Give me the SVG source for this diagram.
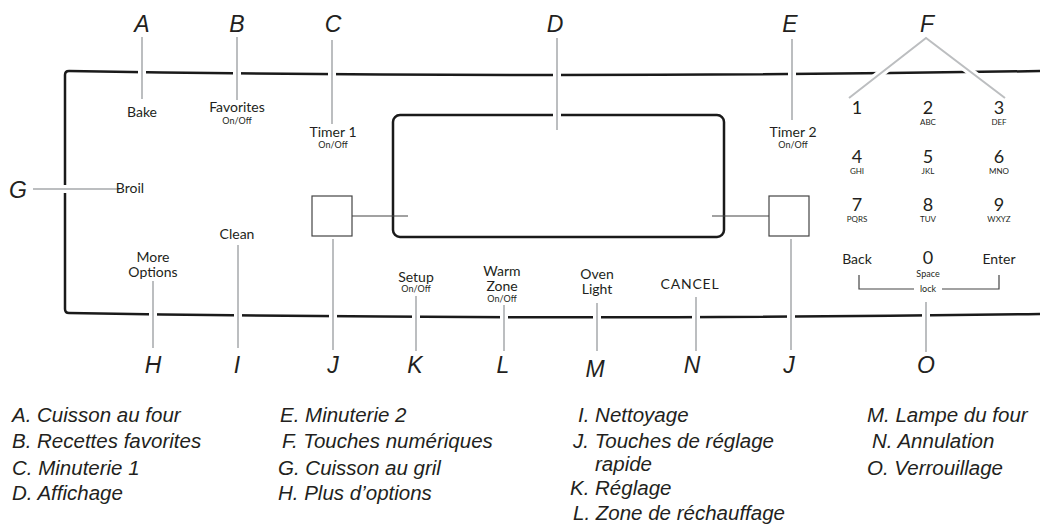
<svg xmlns="http://www.w3.org/2000/svg" width="1040" height="525" viewBox="0 0 1040 525">
<style>
.bg{fill:#fff}
.panel{fill:none;stroke:#1a1a1a;stroke-width:2.5}
.lead-u{fill:none;stroke:#fff;stroke-width:8;stroke-linecap:butt}
.lead{fill:none;stroke:#bcbec0;stroke-width:2;stroke-linecap:butt}
.thin{fill:none;stroke:#444;stroke-width:1.2}
.callout{font-family:"Liberation Sans",Arial,sans-serif;font-style:italic;font-size:23px;fill:#231f20;text-anchor:middle}
.lbl{font-family:Lato,"Open Sans",sans-serif;font-size:14px;fill:#231f20;text-anchor:middle}
.sm{font-family:Lato,"Open Sans",sans-serif;font-size:9px;fill:#231f20;text-anchor:middle}
.dig{font-family:Lato,"Open Sans",sans-serif;font-size:18px;fill:#231f20;text-anchor:middle}
.sub{font-family:Lato,"Open Sans",sans-serif;font-size:8px;fill:#231f20;text-anchor:middle}
.leg{font-family:"Liberation Sans",Arial,sans-serif;font-style:italic;font-size:20.5px;fill:#231f20}
</style>
<rect class="bg" x="0" y="0" width="1040" height="525"/>
<g id="panel">
<path class="panel" d="M1040,71 Q555,79 69,71 Q65,71 65,75 V309 Q65,313 69,313 Q555,321 1040,314"/>
</g>
<g id="display">
<rect class="panel" x="393" y="115" width="331" height="122" rx="7"/>
</g>
<g id="quick-keys">
<rect class="thin" x="312" y="196" width="40" height="40"/>
<rect class="thin" x="769" y="196" width="40" height="40"/>
<path class="thin" d="M352,216 H408 M712,216 H769" stroke-width="1"/>
</g>
<g id="connectors">
<path class="lead-u" d="M142,37 V99 M237,37 V100 M332,40 V124 M557,38 V130 M792,39 V120 M849,98 L926,38 L1005,98 M33,189 H120 M153,281 V348 M238,245 V348 M333,239 V350 M791,239 V350 M416,296 V351 M504,305 V351 M597,303 V351 M696,297 V351 M926,302 V352"/>
<path class="lead" d="M142,37 V99 M237,37 V100 M332,40 V124 M557,38 V130 M792,39 V120 M849,98 L926,38 L1005,98 M33,189 H120 M153,281 V348 M238,245 V348 M333,239 V350 M791,239 V350 M416,296 V351 M504,305 V351 M597,303 V351 M696,297 V351 M926,302 V352"/>
</g>
<g id="callouts">
<text class="callout" x="142" y="32">A</text>
<text class="callout" x="237" y="32">B</text>
<text class="callout" x="333" y="32">C</text>
<text class="callout" x="555" y="32">D</text>
<text class="callout" x="790" y="32">E</text>
<text class="callout" x="927" y="32">F</text>
<text class="callout" x="18" y="198">G</text>
<text class="callout" x="153" y="373">H</text>
<text class="callout" x="237" y="373">I</text>
<text class="callout" x="333" y="373">J</text>
<text class="callout" x="789" y="373">J</text>
<text class="callout" x="415" y="373">K</text>
<text class="callout" x="503" y="373">L</text>
<text class="callout" x="595" y="377">M</text>
<text class="callout" x="692" y="373">N</text>
<text class="callout" x="926" y="373">O</text>
</g>
<g id="bake"><text class="lbl" x="142" y="117">Bake</text></g>
<g id="favorites"><text class="lbl" x="237" y="112">Favorites</text><text class="sm" x="237" y="124">On/Off</text></g>
<g id="timer1"><text class="lbl" x="333" y="137">Timer 1</text><text class="sm" x="333" y="148">On/Off</text></g>
<g id="timer2"><text class="lbl" x="793" y="137">Timer 2</text><text class="sm" x="793" y="148">On/Off</text></g>
<g id="broil"><text class="lbl" x="130" y="193" text-anchor="start">Broil</text></g>
<g id="clean"><text class="lbl" x="237" y="239">Clean</text></g>
<g id="more-options"><text class="lbl" x="153" y="262">More</text><text class="lbl" x="153" y="277">Options</text></g>
<g id="setup"><text class="lbl" x="416" y="282">Setup</text><text class="sm" x="416" y="292">On/Off</text></g>
<g id="warm-zone"><text class="lbl" x="502" y="276">Warm</text><text class="lbl" x="502" y="291">Zone</text><text class="sm" x="502" y="302">On/Off</text></g>
<g id="oven-light"><text class="lbl" x="597" y="279">Oven</text><text class="lbl" x="597" y="294">Light</text></g>
<g id="cancel"><text class="lbl" x="690" y="289" letter-spacing="0.8">CANCEL</text></g>
<g id="keypad">
<text class="dig" x="857" y="114">1</text>
<text class="dig" x="928" y="114">2</text><text class="sub" x="928" y="125">ABC</text>
<text class="dig" x="999" y="114">3</text><text class="sub" x="999" y="125">DEF</text>
<text class="dig" x="857" y="163">4</text><text class="sub" x="857" y="174">GHI</text>
<text class="dig" x="928" y="163">5</text><text class="sub" x="928" y="174">JKL</text>
<text class="dig" x="999" y="163">6</text><text class="sub" x="999" y="174">MNO</text>
<text class="dig" x="857" y="211">7</text><text class="sub" x="857" y="222">PQRS</text>
<text class="dig" x="928" y="211">8</text><text class="sub" x="928" y="222">TUV</text>
<text class="dig" x="999" y="211">9</text><text class="sub" x="999" y="222">WXYZ</text>
<text class="lbl" x="857" y="264">Back</text>
<text class="dig" x="928" y="264">0</text><text class="sm" x="928" y="277">Space</text>
<text class="lbl" x="999" y="264">Enter</text>
</g>
<g id="lock">
<path class="thin" d="M859,275 V289 H914 M942,289 H999 V275"/>
<text class="sm" x="928" y="292">lock</text>
</g>
<g id="legend">
<text class="leg" x="12" y="422">A. Cuisson au four</text>
<text class="leg" x="12" y="448">B. Recettes favorites</text>
<text class="leg" x="12" y="475">C. Minuterie 1</text>
<text class="leg" x="12" y="500">D. Affichage</text>
<text class="leg" x="280" y="422">E. Minuterie 2</text>
<text class="leg" x="282" y="448">F. Touches numériques</text>
<text class="leg" x="278" y="475">G. Cuisson au gril</text>
<text class="leg" x="278" y="500">H. Plus d’options</text>
<text class="leg" x="578" y="422">I. Nettoyage</text>
<text class="leg" x="573" y="448">J. Touches de réglage</text>
<text class="leg" x="595" y="471">rapide</text>
<text class="leg" x="570" y="495">K. Réglage</text>
<text class="leg" x="573" y="520">L. Zone de réchauffage</text>
<text class="leg" x="867" y="422">M. Lampe du four</text>
<text class="leg" x="872" y="448">N. Annulation</text>
<text class="leg" x="867" y="475">O. Verrouillage</text>
</g>
</svg>
